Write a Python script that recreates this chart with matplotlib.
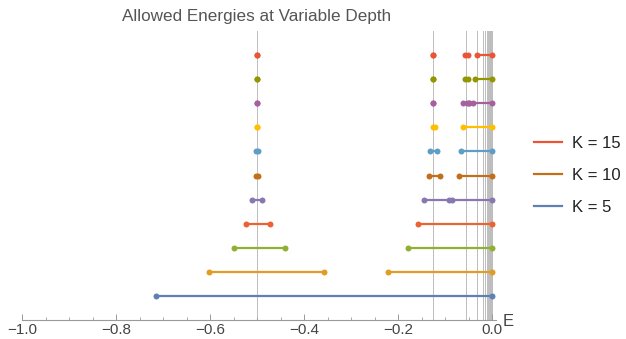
import matplotlib
matplotlib.use("Agg")
import matplotlib.pyplot as plt
from matplotlib.lines import Line2D
import numpy as np

plt.rcParams['font.family'] = ['Liberation Sans', 'DejaVu Sans']

# Depth parameter K for each row (bottom to top)
K_values = [5, 6, 7, 8, 9, 10, 11, 12, 13, 14, 15]
row_colors = ['#5E81B5', '#E19C24', '#8FB032', '#EB6235', '#8778B3', '#C56E1A',
              '#5D9EC7', '#FFBF00', '#A5609D', '#929600', '#E95536']

# Allowed energy bands: (K, lower edge, upper edge); lo == hi is an isolated level
band_K = [5,
          6, 6,
          7, 7,
          8, 8,
          9, 9, 9,
          10, 10, 10,
          11, 11, 11,
          12, 12, 12,
          13, 13, 13, 13, 13,
          14, 14, 14, 14,
          15, 15, 15, 15]
band_lo = [-0.7155,
           -0.602, -0.2213,
           -0.548, -0.178,
           -0.523, -0.158,
           -0.510, -0.1447, -0.0845,
           -0.503, -0.134, -0.0709,
           -0.502, -0.132, -0.0653,
           -0.501, -0.1266, -0.061,
           -0.500, -0.125, -0.061, -0.0483, -0.0398,
           -0.500, -0.125, -0.0574, -0.0362,
           -0.500, -0.125, -0.0574, -0.0326]
band_hi = [0.0,
           -0.357, 0.0,
           -0.440, 0.0,
           -0.472, 0.0,
           -0.489, -0.0909, 0.0,
           -0.497, -0.1106, 0.0,
           -0.498, -0.1164, 0.0,
           -0.499, -0.1213, 0.0,
           -0.500, -0.125, -0.0538, -0.0483, 0.0,
           -0.500, -0.125, -0.0504, 0.0,
           -0.500, -0.125, -0.0517, 0.0]

# Hydrogen-like reference levels E_n = -1/(2 n^2)
level_n = np.arange(1, 26)
ref_levels = -1.0 / (2.0 * level_n ** 2)

legend_K = [15, 10, 5]

W, H = 626, 339
fig = plt.figure(figsize=(W / 100, H / 100), dpi=100)
ax = fig.add_axes([22 / W, (H - 320) / H, 474 / W, 289 / H])

for e in ref_levels:
    ax.plot([e, e], [0, 12], color='#BDBDBD', lw=0.7, zorder=1, clip_on=False)

for k, lo, hi in zip(band_K, band_lo, band_hi):
    row = K_values.index(k) + 1
    c = row_colors[row - 1]
    ax.plot([lo, hi], [row, row], color=c, lw=1.6, solid_capstyle='butt',
            marker='o', markersize=4.3, markeredgewidth=0, zorder=3, clip_on=False)

ax.set_xlim(-1.0, 0.0085)
ax.set_ylim(0, 12)
for s in ['top', 'right', 'left']:
    ax.spines[s].set_visible(False)
ax.spines['bottom'].set_color('#9A9A9A')
ax.spines['bottom'].set_linewidth(0.8)
ax.set_yticks([])
ax.set_xticks(np.round(np.arange(-1.0, 0.01, 0.2), 2))
ax.set_xticklabels(['−1.0', '−0.8', '−0.6', '−0.4', '−0.2', '0.0'])
ax.set_xticks(np.round(np.arange(-1.0, 0.01, 0.05), 2), minor=True)
ax.tick_params(axis='x', which='major', direction='in', length=4, width=0.7,
               color='#9A9A9A', labelsize=11, labelcolor='#444444', pad=2.5)
ax.tick_params(axis='x', which='minor', direction='in', length=2.2, width=0.6,
               color='#9A9A9A')

fig.text(503 / W, 1 - 322 / H, 'E', fontsize=12, color='#444444',
         ha='left', va='center')
fig.text(257 / W, 1 - 17 / H, 'Allowed Energies at Variable Depth',
         fontsize=12.3, color='#555555', ha='center', va='center')

handles = [Line2D([0], [0], color=row_colors[K_values.index(k)], lw=1.6) for k in legend_K]
labels = ['K = %d' % k for k in legend_K]
fig.legend(handles, labels, loc='center left', bbox_to_anchor=(534 / W, 1 - 175.5 / H),
           frameon=False, fontsize=12, handlelength=1.68, handletextpad=0.6,
           labelspacing=1.0, borderpad=0, borderaxespad=0, labelcolor='#222222')

fig.savefig('out.png', dpi=100, facecolor='white')
